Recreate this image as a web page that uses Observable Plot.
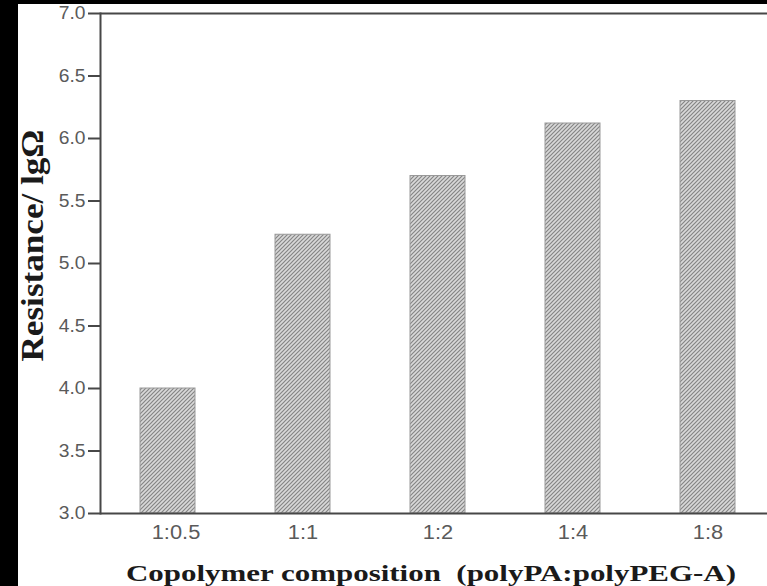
<!DOCTYPE html>
<html>
<head>
<meta charset="utf-8">
<script src="https://cdn.jsdelivr.net/npm/d3@7"></script>
<script src="https://cdn.jsdelivr.net/npm/@observablehq/plot@0.6"></script>
<style>
  html, body { margin: 0; padding: 0; background: #000; width: 767px; height: 586px; overflow: hidden; }
  #chart { position: absolute; left: 18px; top: 4px; width: 749px; height: 582px; background: #fff; }
  #chart svg { overflow: visible; }
</style>
</head>
<body>
<div id="chart"></div>
<script>
// Copolymer composition vs. resistance (log10 ohm)
const compositions = ["1:0.5", "1:1", "1:2", "1:4", "1:8"];
const resistance = [4.00, 5.23, 5.70, 6.12, 6.30];
const yTicks = [3.0, 3.5, 4.0, 4.5, 5.0, 5.5, 6.0, 6.5, 7.0];
const baseline = 3.0;
const xTitle = "Copolymer composition  (polyPA:polyPEG-A)";
const yTitle = "Resistance/ lgΩ";

const rows = compositions.map((c, i) => ({composition: c, value: resistance[i]}));

const W = 749, H = 582;
const axisColor = "#474747";
const tickText = "#5a5a5a";
const serif = "'Liberation Serif', 'Times New Roman', serif";

const chart = Plot.plot({
  width: W,
  height: H,
  marginLeft: 82,
  marginRight: 0,
  marginTop: 9,
  marginBottom: 73,
  style: {background: "#fff", fontFamily: "'Liberation Sans', Arial, sans-serif"},
  x: {domain: compositions, range: [82, 758], paddingInner: 0.59, paddingOuter: 0.295, axis: null},
  y: {domain: [3, 7], axis: null},
  marks: [
    Plot.barY(rows, {x: "composition", y1: baseline, y2: "value", fill: "url(#hatch)", stroke: "#999", strokeWidth: 1}),
    Plot.ruleY([3, 7], {stroke: axisColor, strokeWidth: 2}),
    Plot.frame({anchor: "left", stroke: axisColor, strokeWidth: 2}),
    Plot.axisY(yTicks, {
      tickSize: 12, tickPadding: 3, tickFormat: d3.format(".1f"),
      stroke: axisColor, strokeWidth: 2, fill: tickText, fontSize: 17.5, label: null
    }),
    Plot.axisX(compositions, {tickSize: 0, tickPadding: 12, fill: tickText, fontSize: 19.5, label: null}),
    Plot.text([xTitle], {
      frameAnchor: "bottom", textAnchor: "middle", lineAnchor: "bottom", dx: -3, dy: 67,
      fontFamily: serif, fontWeight: "bold", fontSize: 23, fill: "#1a1a1a"
    }),
    Plot.text([yTitle], {
      frameAnchor: "left", textAnchor: "middle", lineAnchor: "middle", dx: -67, dy: -18, rotate: -90,
      fontFamily: serif, fontWeight: "bold", fontSize: 31, fill: "#1a1a1a"
    })
  ]
});

// diagonal hatching used by the bars
const ns = "http://www.w3.org/2000/svg";
const defs = document.createElementNS(ns, "defs");
const pat = document.createElementNS(ns, "pattern");
pat.setAttribute("id", "hatch");
pat.setAttribute("patternUnits", "userSpaceOnUse");
pat.setAttribute("width", 4);
pat.setAttribute("height", 4);
const bg = document.createElementNS(ns, "rect");
bg.setAttribute("width", 4); bg.setAttribute("height", 4); bg.setAttribute("fill", "#d9d9d9");
const ln = document.createElementNS(ns, "path");
ln.setAttribute("d", "M-1,1 L1,-1 M0,4 L4,0 M3,5 L5,3");
ln.setAttribute("stroke", "#858585");
ln.setAttribute("stroke-width", 1.2);
pat.append(bg, ln);
defs.append(pat);
chart.insertBefore(defs, chart.firstChild);

document.getElementById("chart").append(chart);

// widen the lettering horizontally
function widen(selector, factor) {
  chart.querySelectorAll(selector).forEach(t => {
    const len = t.getComputedTextLength();
    t.setAttribute("textLength", len * factor);
    t.setAttribute("lengthAdjust", "spacingAndGlyphs");
  });
}
widen('g[aria-label="y-axis tick label"] text', 1.1);
widen('g[aria-label="x-axis tick label"] text', 1.12);

// the first category label sits a little right of its bar
const xLabels = chart.querySelectorAll('g[aria-label="x-axis tick label"] text');
if (xLabels.length) xLabels[0].setAttribute("dx", 8);

const titles = chart.querySelectorAll('g[aria-label="text"] text');
if (titles.length === 2) {
  titles[0].setAttribute("textLength", 610);
  titles[0].setAttribute("lengthAdjust", "spacingAndGlyphs");
  titles[1].setAttribute("textLength", 232);
  titles[1].setAttribute("lengthAdjust", "spacingAndGlyphs");
}
</script>
</body>
</html>
